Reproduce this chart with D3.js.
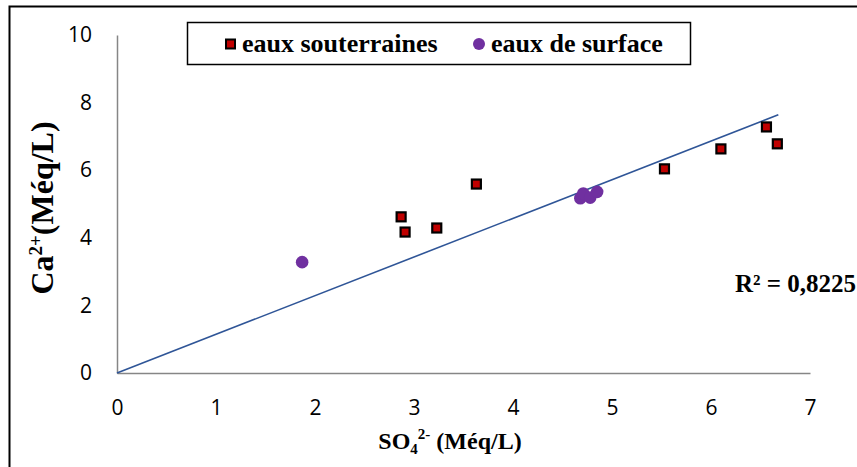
<!DOCTYPE html>
<html>
<head>
<meta charset="utf-8">
<script src="https://cdn.jsdelivr.net/npm/d3@7"></script>
<style>
  html, body { margin: 0; padding: 0; background: #fff; }
  svg { display: block; }
</style>
</head>
<body>
<svg id="chart" width="857" height="467"></svg>
<script>
// Groundwater samples (SO4 2-, Ca 2+) in meq/L
const souterrainesSO4 = [2.87, 2.91, 3.23, 3.63, 5.53, 6.10, 6.56, 6.67];
const souterrainesCa  = [4.62, 4.17, 4.29, 5.59, 6.04, 6.63, 7.28, 6.78];
// Surface water samples
const surfaceSO4 = [1.87, 4.68, 4.71, 4.78, 4.85];
const surfaceCa  = [3.28, 5.17, 5.31, 5.19, 5.36];
// Linear fit through the origin
const trendSlope = 1.144;
const trendXRange = [0, 6.68];
const r2Label = "R² = 0,8225";
const xTicks = [0, 1, 2, 3, 4, 5, 6, 7];
const yTicks = [0, 2, 4, 6, 8, 10];
const legendLabels = ["eaux souterraines", "eaux de surface"];

const svg = d3.select("#chart");
const x = d3.scaleLinear().domain([0, 7]).range([117, 810]);
const y = d3.scaleLinear().domain([0, 10]).range([373, 35]);

const serif = "'Liberation Serif', 'Times New Roman', serif";
const tickFont = "'Open Sans', 'Noto Sans', sans-serif";
const axisColor = "#868686";

// Outer frame (open on the right and bottom)
svg.append("path")
  .attr("d", "M9.5,467 L9.5,6.5 L857,6.5")
  .attr("fill", "none").attr("stroke", "#000").attr("stroke-width", 2);

// X axis
const gx = svg.append("g").attr("transform", `translate(0,${y(0)})`)
  .call(d3.axisBottom(x).tickValues(xTicks).tickSize(0).tickPadding(27).tickFormat(d3.format("d")));
gx.select(".domain").attr("stroke", axisColor).attr("stroke-width", 1.5);
gx.selectAll("text").attr("font-family", tickFont).attr("font-size", 21).attr("fill", "#000");

// Y axis
const gy = svg.append("g").attr("transform", `translate(${x(0)},0)`)
  .call(d3.axisLeft(y).tickValues(yTicks).tickSize(0).tickPadding(25).tickFormat(d3.format("d")));
gy.select(".domain").attr("stroke", axisColor).attr("stroke-width", 1.5);
gy.selectAll("text").attr("font-family", tickFont).attr("font-size", 21).attr("fill", "#000");

// Trend line
svg.append("line")
  .attr("x1", x(trendXRange[0])).attr("y1", y(trendSlope * trendXRange[0]))
  .attr("x2", x(trendXRange[1])).attr("y2", y(trendSlope * trendXRange[1]))
  .attr("stroke", "#2F5597").attr("stroke-width", 1.6);

// Surface water points
const surf = surfaceSO4.map((v, i) => ({ x: v, y: surfaceCa[i] }));
svg.append("g").selectAll("circle").data(surf).join("circle")
  .attr("cx", d => x(d.x)).attr("cy", d => y(d.y)).attr("r", 6.3)
  .attr("fill", "#7030A0");

// Groundwater points
const sout = souterrainesSO4.map((v, i) => ({ x: v, y: souterrainesCa[i] }));
const sq = 9;
svg.append("g").selectAll("rect").data(sout).join("rect")
  .attr("x", d => x(d.x) - sq / 2).attr("y", d => y(d.y) - sq / 2)
  .attr("width", sq).attr("height", sq)
  .attr("fill", "#C00000").attr("stroke", "#000").attr("stroke-width", 2.2);

// Legend
const lg = svg.append("g");
lg.append("rect").attr("x", 187.5).attr("y", 22.5).attr("width", 503).attr("height", 42)
  .attr("fill", "#fff").attr("stroke", "#000").attr("stroke-width", 1.5);
lg.append("rect").attr("x", 226).attr("y", 39.5).attr("width", 9).attr("height", 9)
  .attr("fill", "#C00000").attr("stroke", "#000").attr("stroke-width", 2);
lg.append("text").attr("x", 242).attr("y", 52).text(legendLabels[0])
  .attr("font-family", serif).attr("font-weight", "bold").attr("font-size", 26);
lg.append("circle").attr("cx", 479).attr("cy", 44).attr("r", 6).attr("fill", "#7030A0");
lg.append("text").attr("x", 491).attr("y", 52).text(legendLabels[1])
  .attr("font-family", serif).attr("font-weight", "bold").attr("font-size", 26);

// R² label
svg.append("text").attr("x", 735).attr("y", 292).text(r2Label)
  .attr("font-family", serif).attr("font-weight", "bold").attr("font-size", 25);

// Y axis title
const yt = svg.append("text")
  .attr("transform", "translate(53,208) rotate(-90)")
  .attr("text-anchor", "middle")
  .attr("font-family", serif).attr("font-weight", "bold").attr("font-size", 32);
yt.append("tspan").text("Ca");
yt.append("tspan").attr("font-size", 19).attr("dy", -11).text("2+");
yt.append("tspan").attr("dy", 11).text("(Méq/L)");

// X axis title
const xt = svg.append("text")
  .attr("x", 450).attr("y", 449)
  .attr("text-anchor", "middle")
  .attr("font-family", serif).attr("font-weight", "bold").attr("font-size", 24);
xt.append("tspan").text("SO");
xt.append("tspan").attr("font-size", 15).attr("dy", 5).text("4");
xt.append("tspan").attr("font-size", 15).attr("dy", -15).text("2-");
xt.append("tspan").attr("dy", 10).text(" (Méq/L)");
</script>
</body>
</html>
